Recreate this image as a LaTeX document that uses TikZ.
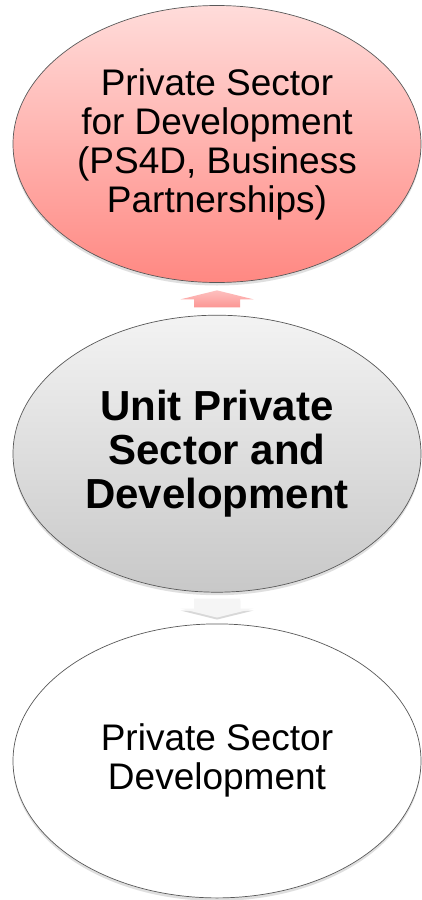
\documentclass[tikz,border=0pt]{standalone}
\usepackage{fontspec}
\setmainfont{Liberation Sans}
\usetikzlibrary{positioning,shapes.geometric,shadows,calc}

\definecolor{pinktop}{RGB}{255,220,218}
\definecolor{pinkbot}{RGB}{255,136,130}
\definecolor{greytop}{RGB}{243,243,243}
\definecolor{greybot}{RGB}{200,200,200}
\definecolor{arrowpink}{RGB}{252,150,148}

\tikzset{
	bubble/.style={ellipse, draw=black!65, line width=0.7pt, minimum width=408pt, minimum height=277pt,
		inner sep=0pt, align=center, drop shadow={opacity=0.25, shadow xshift=0pt, shadow yshift=-3pt}},
	plaintext/.style={font=\fontsize{37}{39}\selectfont},
	boldtext/.style={font=\fontsize{42}{44}\selectfont\bfseries},
	uparrow/.style={top color=arrowpink!60, bottom color=arrowpink},
	downarrow/.style={fill=black!4, drop shadow={opacity=0.3, shadow xshift=0pt, shadow yshift=-2pt}}
}

\begin{document}
\begin{tikzpicture}
	\fill[white] (0,0) rectangle (421pt,-900pt);
	\useasboundingbox (0,0) rectangle (421pt,-900pt);
	% the three units
	\node[bubble, plaintext, top color=pinktop, bottom color=pinkbot] (top) at (217pt,-144pt)
		{Private Sector\\for Development\\(PS4D, Business\\Partnerships)};
	\node[bubble, boldtext, top color=greytop, bottom color=greybot, below=32pt of top] (mid)
		{Unit Private\\Sector and\\Development};
	\node[bubble, plaintext, fill=white, minimum height=274pt, below=31pt of mid] (bot)
		{Private Sector\\Development};
	% arrows between them
	\coordinate (upmid) at ($(top.south)!0.5!(mid.north)$);
	\coordinate (downmid) at ($(mid.south)!0.5!(bot.north)$);
	\shade[uparrow] (upmid) ++(-23pt,-8.5pt) -- ++(0,8pt) -- ++(-13.5pt,0) -- ++(36.5pt,9pt)
		-- ++(36.5pt,-9pt) -- ++(-13.5pt,0) -- ++(0,-8pt) -- cycle;
	\path[downarrow] (downmid) ++(-23pt,9.5pt) -- ++(0,-10pt) -- ++(-13.5pt,0) -- ++(36.5pt,-9pt)
		-- ++(36.5pt,9pt) -- ++(-13.5pt,0) -- ++(0,10pt) -- cycle;
\end{tikzpicture}
\end{document}
